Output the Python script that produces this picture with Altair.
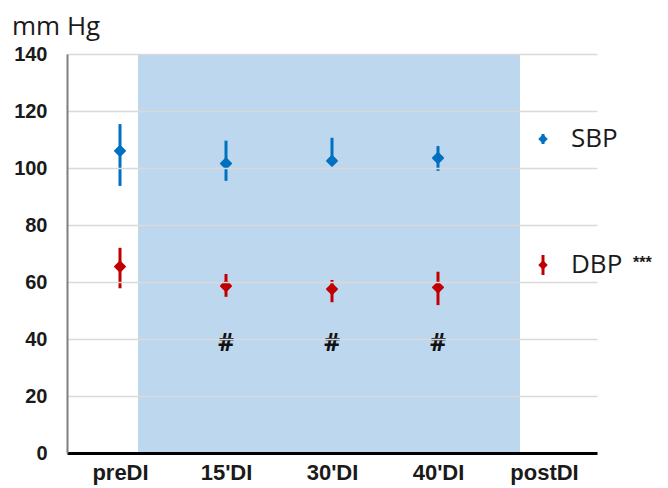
import json
import altair as alt
import pandas as pd

categories = ["preDI", "15'DI", "30'DI", "40'DI", "postDI"]
measured_idx = [0, 1, 2, 3]
sbp_mean = [106.0, 101.6, 102.5, 103.5]
sbp_low = [93.7, 95.5, 101.5, 99.0]
sbp_high = [115.4, 109.6, 110.6, 107.7]
dbp_mean = [65.4, 58.6, 57.5, 58.1]
dbp_low = [57.8, 54.8, 52.9, 51.9]
dbp_high = [72.0, 62.8, 60.7, 63.6]
sig_idx = [1, 2, 3]
sig_labels = ["#", "#", "#"]
sig_level = 38.5
y_ticks = [0, 20, 40, 60, 80, 100, 120, 140]
series_names = ["SBP", "DBP"]
series_colors = ["#0070C0", "#C00000"]

rows = []
for name, means, lows, highs in [("SBP", sbp_mean, sbp_low, sbp_high),
                                 ("DBP", dbp_mean, dbp_low, dbp_high)]:
    for i, m, lo, hi in zip(measured_idx, means, lows, highs):
        rows.append({"idx": i, "series": name, "mean": m, "low": lo, "high": hi})
df = pd.DataFrame(rows)
df_sig = pd.DataFrame({"idx": sig_idx, "label": sig_labels})

W, H = 530, 399
xscale = alt.Scale(domain=[-0.5, 4.5], nice=False, zero=False)
yscale = alt.Scale(domain=[0, 140], nice=False)
cscale = alt.Scale(domain=series_names, range=series_colors)

x_axis = alt.Axis(values=list(range(len(categories))),
                  labelExpr=json.dumps(categories) + "[datum.value]",
                  grid=False, ticks=False, tickSize=0, domainColor="#000000",
                  domainWidth=3, labelFont="Liberation Sans", labelFontWeight="bold",
                  labelFontSize=22, labelColor="#1a1a1a", labelPadding=9, title=None,
                  zindex=1)
y_axis = alt.Axis(values=y_ticks, grid=True, gridColor="#d9d9d9", gridWidth=1.5,
                  domainColor="#7f7f7f", domainWidth=2, ticks=False, tickSize=0,
                  labelFont="Liberation Sans", labelFontWeight="bold", labelFontSize=20,
                  labelColor="#1a1a1a", labelPadding=20, title=None, zindex=1)

one = alt.Data(values=[{}])

band = alt.Chart(one).mark_rect(color="#BDD7EE").encode(
    x=alt.value(71), x2=alt.value(453), y=alt.value(0), y2=alt.value(H))

base = alt.Chart(df)
rules = base.mark_rule(strokeWidth=3).encode(
    x=alt.X("idx:Q", scale=xscale, axis=x_axis),
    y=alt.Y("low:Q", scale=yscale, axis=y_axis),
    y2="high:Q",
    color=alt.Color("series:N", scale=cscale, legend=None))
points = base.mark_point(shape="diamond", filled=True, size=100, opacity=1,
                         strokeWidth=2, strokeJoin="round").encode(
    x=alt.X("idx:Q", scale=xscale),
    y=alt.Y("mean:Q", scale=yscale),
    color=alt.Color("series:N", scale=cscale, legend=None),
    stroke=alt.Color("series:N", scale=cscale, legend=None))

sig = alt.Chart(df_sig).mark_text(fontSize=25, fontWeight="bold", font="Open Sans",
                                  color="#111111", baseline="middle").encode(
    x=alt.X("idx:Q", scale=xscale), y=alt.datum(sig_level), text="label:N")

legend_layers = []
for name, color, ypix, half in [("SBP", series_colors[0], 85, 5),
                                ("DBP", series_colors[1], 211, 10)]:
    legend_layers.append(alt.Chart(one).mark_rule(color=color, strokeWidth=3).encode(
        x=alt.value(476), y=alt.value(ypix - half), y2=alt.value(ypix + half)))
    legend_layers.append(alt.Chart(one).mark_point(
        shape="diamond", filled=True, size=90, color=color, opacity=1).encode(
        x=alt.value(476), y=alt.value(ypix)))
    legend_layers.append(alt.Chart(one).mark_text(
        text=name, font="Open Sans", fontSize=26, color="#1a1a1a", align="left",
        baseline="middle").encode(x=alt.value(504), y=alt.value(ypix)))

stars = alt.Chart(one).mark_text(text="***", font="Liberation Sans", fontSize=16,
                                 fontWeight="bold", color="#1a1a1a", align="left",
                                 baseline="middle").encode(x=alt.value(566), y=alt.value(209))
unit = alt.Chart(one).mark_text(text="mm Hg", font="Open Sans", fontSize=26,
                                color="#1a1a1a", align="left", baseline="middle").encode(
    x=alt.value(-55), y=alt.value(-27))

chart = alt.layer(band, rules, points, sig, *legend_layers, stars, unit).properties(
    width=W, height=H,
    autosize=alt.AutoSizeParams(type="none"),
    padding={"left": 59, "top": 46, "right": 63, "bottom": 34},
    background="white",
).configure_view(stroke=None)

chart.save("out.html", embed_options={"renderer": "svg", "actions": False})
